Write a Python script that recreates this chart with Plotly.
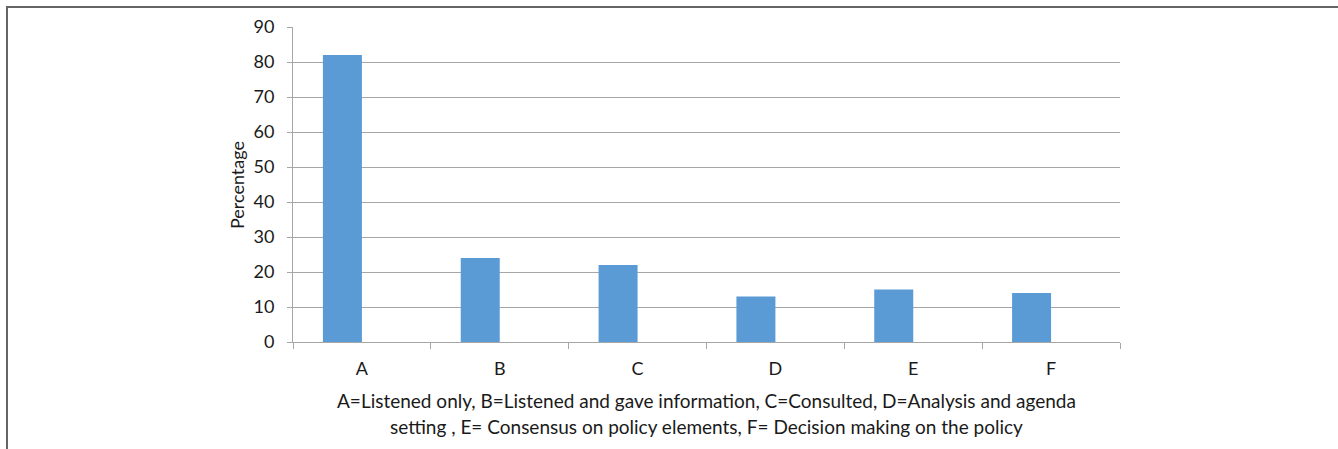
import plotly.graph_objects as go

categories = ["A", "B", "C", "D", "E", "F"]
percentages = [82, 24, 22, 13, 15, 14]
y_ticks = [0, 10, 20, 30, 40, 50, 60, 70, 80, 90]
y_title = "Percentage"
x_title_lines = [
    "A=Listened only, B=Listened and gave information, C=Consulted, D=Analysis and agenda",
    "setting , E= Consensus on policy elements, F= Decision making on the policy",
]

W, H = 1338, 449
L, R, T, B = 293, 1120, 27, 342
pw, ph = R - L, B - T

def px(x):
    return (x - L) / pw

def py(y):
    return (B - y) / ph

FONT = "Lato, Open Sans, sans-serif"
GRID = "#a6a6a6"
TXT = "#1a1a1a"

fig = go.Figure(go.Bar(x=categories, y=percentages, width=0.283, offset=-0.283,
                       marker=dict(color="#5b9bd5", line=dict(width=0))))

fig.update_layout(
    width=W, height=H,
    margin=dict(l=L, r=W - R, t=T, b=H - B, pad=0),
    paper_bgcolor="white", plot_bgcolor="white",
    showlegend=False,
    font=dict(family=FONT, size=18, color=TXT),
)
fig.update_yaxes(
    range=[0, 90], tickvals=y_ticks, showgrid=True, gridcolor=GRID, gridwidth=1,
    showline=True, linecolor=GRID, linewidth=1,
    ticks="outside", ticklen=5, tickcolor=GRID, zeroline=False,
    tickfont=dict(size=18, family=FONT, color=TXT), ticklabelstandoff=9,
)
fig.update_xaxes(
    showline=True, linecolor=GRID, linewidth=1,
    ticks="outside", tickson="boundaries", ticklen=6, tickcolor=GRID,
    showgrid=False, tickfont=dict(size=18, family=FONT, color=TXT), ticklabelstandoff=10,
)

fig.add_annotation(text=y_title, xref="paper", yref="paper", x=px(237), y=py(185),
                   showarrow=False, textangle=-90, xanchor="center", yanchor="middle",
                   font=dict(size=18, family=FONT, color=TXT))

for i, line in enumerate(x_title_lines):
    fig.add_annotation(text=line, xref="paper", yref="paper", x=0.5, y=py(400 + 26 * i),
                       showarrow=False, xanchor="center", yanchor="middle",
                       font=dict(size=19, family=FONT, color=TXT))

# outer frame (top and left)
fig.add_shape(type="line", xref="paper", yref="paper", x0=px(6), x1=px(W + 5), y0=py(7), y1=py(7),
              line=dict(color="#666666", width=2))
fig.add_shape(type="line", xref="paper", yref="paper", x0=px(7), x1=px(7), y0=py(6), y1=py(H + 5),
              line=dict(color="#666666", width=2))

fig.write_html("out.html", config={"displayModeBar": False},
               post_script="document.body.style.margin='0';")
